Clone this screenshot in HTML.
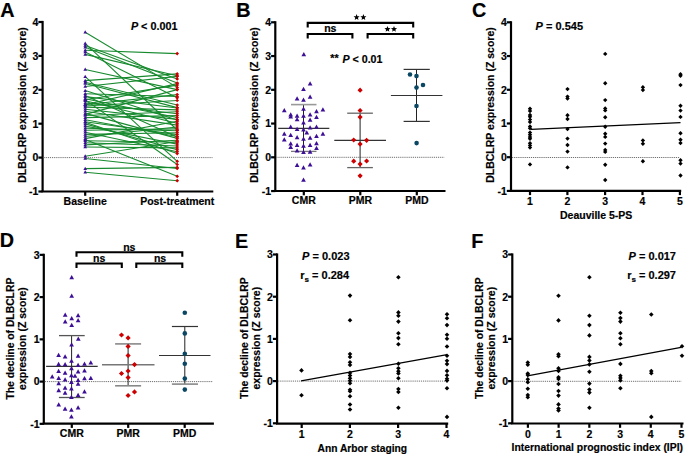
<!DOCTYPE html>
<html><head><meta charset="utf-8"><style>
html,body{margin:0;padding:0;background:#fff;}
svg{display:block;}
text{font-family:"Liberation Sans", sans-serif;fill:#000;stroke:#000;stroke-width:0.18px;}
</style></head><body>
<svg width="685" height="454" viewBox="0 0 685 454">
<rect width="685" height="454" fill="#fff"/>
<text x="0.20" y="16.60" text-anchor="start" font-size="19.8" font-weight="bold" font-style="normal" >A</text>
<line x1="38.40" y1="22.00" x2="42.60" y2="22.00" stroke="#000" stroke-width="2.2" />
<text x="38.40" y="25.80" text-anchor="end" font-size="10.5" font-weight="bold" font-style="normal" >4</text>
<line x1="38.40" y1="55.90" x2="42.60" y2="55.90" stroke="#000" stroke-width="2.2" />
<text x="38.40" y="59.70" text-anchor="end" font-size="10.5" font-weight="bold" font-style="normal" >3</text>
<line x1="38.40" y1="89.80" x2="42.60" y2="89.80" stroke="#000" stroke-width="2.2" />
<text x="38.40" y="93.60" text-anchor="end" font-size="10.5" font-weight="bold" font-style="normal" >2</text>
<line x1="38.40" y1="123.70" x2="42.60" y2="123.70" stroke="#000" stroke-width="2.2" />
<text x="38.40" y="127.50" text-anchor="end" font-size="10.5" font-weight="bold" font-style="normal" >1</text>
<line x1="38.40" y1="157.60" x2="42.60" y2="157.60" stroke="#000" stroke-width="2.2" />
<text x="38.40" y="161.40" text-anchor="end" font-size="10.5" font-weight="bold" font-style="normal" >0</text>
<line x1="38.40" y1="191.50" x2="42.60" y2="191.50" stroke="#000" stroke-width="2.2" />
<text x="38.40" y="195.30" text-anchor="end" font-size="10.5" font-weight="bold" font-style="normal" >-1</text>
<line x1="42.60" y1="20.90" x2="42.60" y2="191.50" stroke="#000" stroke-width="2.2" />
<line x1="43.60" y1="157.60" x2="212.50" y2="157.60" stroke="#707070" stroke-width="1.0" stroke-dasharray="1.2 0.9"/>
<line x1="85.20" y1="32.30" x2="177.20" y2="87.40" stroke="#178a2e" stroke-width="1.1" />
<line x1="85.20" y1="43.40" x2="177.20" y2="130.00" stroke="#178a2e" stroke-width="1.1" />
<line x1="85.20" y1="45.50" x2="177.20" y2="79.00" stroke="#178a2e" stroke-width="1.1" />
<line x1="85.20" y1="47.30" x2="177.20" y2="83.00" stroke="#178a2e" stroke-width="1.1" />
<line x1="85.20" y1="50.30" x2="177.20" y2="53.60" stroke="#178a2e" stroke-width="1.1" />
<line x1="85.20" y1="54.40" x2="177.20" y2="75.80" stroke="#178a2e" stroke-width="1.1" />
<line x1="85.20" y1="52.00" x2="177.20" y2="97.80" stroke="#178a2e" stroke-width="1.1" />
<line x1="85.20" y1="69.50" x2="177.20" y2="89.60" stroke="#178a2e" stroke-width="1.1" />
<line x1="85.20" y1="76.60" x2="177.20" y2="161.30" stroke="#178a2e" stroke-width="1.1" />
<line x1="85.20" y1="80.60" x2="177.20" y2="73.90" stroke="#178a2e" stroke-width="1.1" />
<line x1="85.20" y1="82.30" x2="177.20" y2="105.00" stroke="#178a2e" stroke-width="1.1" />
<line x1="85.20" y1="83.50" x2="177.20" y2="107.60" stroke="#178a2e" stroke-width="1.1" />
<line x1="85.20" y1="90.60" x2="177.20" y2="120.00" stroke="#178a2e" stroke-width="1.1" />
<line x1="85.20" y1="93.80" x2="177.20" y2="96.50" stroke="#178a2e" stroke-width="1.1" />
<line x1="85.20" y1="156.30" x2="177.20" y2="141.50" stroke="#178a2e" stroke-width="1.1" />
<line x1="85.20" y1="158.50" x2="177.20" y2="168.50" stroke="#178a2e" stroke-width="1.1" />
<line x1="85.20" y1="168.60" x2="177.20" y2="167.40" stroke="#178a2e" stroke-width="1.1" />
<line x1="85.20" y1="172.20" x2="177.20" y2="180.70" stroke="#178a2e" stroke-width="1.1" />
<line x1="85.20" y1="99.90" x2="177.20" y2="164.50" stroke="#178a2e" stroke-width="1.1" />
<line x1="85.20" y1="139.60" x2="177.20" y2="176.30" stroke="#178a2e" stroke-width="1.1" />
<line x1="85.20" y1="104.80" x2="177.20" y2="83.60" stroke="#178a2e" stroke-width="1.1" />
<line x1="85.20" y1="99.80" x2="177.20" y2="85.10" stroke="#178a2e" stroke-width="1.1" />
<line x1="85.20" y1="104.70" x2="177.20" y2="94.60" stroke="#178a2e" stroke-width="1.1" />
<line x1="85.20" y1="95.50" x2="177.20" y2="137.00" stroke="#178a2e" stroke-width="1.1" />
<line x1="85.20" y1="86.50" x2="177.20" y2="76.40" stroke="#178a2e" stroke-width="1.1" />
<line x1="85.20" y1="122.30" x2="177.20" y2="153.60" stroke="#178a2e" stroke-width="1.1" />
<line x1="85.20" y1="114.40" x2="177.20" y2="89.60" stroke="#178a2e" stroke-width="1.1" />
<line x1="85.20" y1="106.00" x2="177.20" y2="100.50" stroke="#178a2e" stroke-width="1.1" />
<line x1="85.20" y1="96.60" x2="177.20" y2="108.00" stroke="#178a2e" stroke-width="1.1" />
<line x1="85.20" y1="107.10" x2="177.20" y2="109.90" stroke="#178a2e" stroke-width="1.1" />
<line x1="85.20" y1="115.50" x2="177.20" y2="111.80" stroke="#178a2e" stroke-width="1.1" />
<line x1="85.20" y1="102.90" x2="177.20" y2="113.70" stroke="#178a2e" stroke-width="1.1" />
<line x1="85.20" y1="117.60" x2="177.20" y2="115.60" stroke="#178a2e" stroke-width="1.1" />
<line x1="85.20" y1="98.70" x2="177.20" y2="117.50" stroke="#178a2e" stroke-width="1.1" />
<line x1="85.20" y1="109.20" x2="177.20" y2="119.40" stroke="#178a2e" stroke-width="1.1" />
<line x1="85.20" y1="138.60" x2="177.20" y2="121.30" stroke="#178a2e" stroke-width="1.1" />
<line x1="85.20" y1="100.80" x2="177.20" y2="123.20" stroke="#178a2e" stroke-width="1.1" />
<line x1="85.20" y1="111.30" x2="177.20" y2="125.10" stroke="#178a2e" stroke-width="1.1" />
<line x1="85.20" y1="136.50" x2="177.20" y2="127.00" stroke="#178a2e" stroke-width="1.1" />
<line x1="85.20" y1="130.20" x2="177.20" y2="128.90" stroke="#178a2e" stroke-width="1.1" />
<line x1="85.20" y1="128.10" x2="177.20" y2="130.80" stroke="#178a2e" stroke-width="1.1" />
<line x1="85.20" y1="134.40" x2="177.20" y2="132.70" stroke="#178a2e" stroke-width="1.1" />
<line x1="85.20" y1="121.80" x2="177.20" y2="134.60" stroke="#178a2e" stroke-width="1.1" />
<line x1="85.20" y1="119.70" x2="177.20" y2="136.50" stroke="#178a2e" stroke-width="1.1" />
<line x1="85.20" y1="113.40" x2="177.20" y2="138.40" stroke="#178a2e" stroke-width="1.1" />
<line x1="85.20" y1="144.90" x2="177.20" y2="140.30" stroke="#178a2e" stroke-width="1.1" />
<line x1="85.20" y1="140.70" x2="177.20" y2="142.20" stroke="#178a2e" stroke-width="1.1" />
<line x1="85.20" y1="126.00" x2="177.20" y2="144.10" stroke="#178a2e" stroke-width="1.1" />
<line x1="85.20" y1="142.80" x2="177.20" y2="146.00" stroke="#178a2e" stroke-width="1.1" />
<line x1="85.20" y1="147.00" x2="177.20" y2="147.90" stroke="#178a2e" stroke-width="1.1" />
<line x1="85.20" y1="123.90" x2="177.20" y2="149.80" stroke="#178a2e" stroke-width="1.1" />
<line x1="85.20" y1="132.30" x2="177.20" y2="151.70" stroke="#178a2e" stroke-width="1.1" />
<polygon points="85.20,30.36 87.00,33.60 83.40,33.60" fill="#3c0f96"/>
<polygon points="85.20,41.46 87.00,44.70 83.40,44.70" fill="#3c0f96"/>
<polygon points="85.20,43.56 87.00,46.80 83.40,46.80" fill="#3c0f96"/>
<polygon points="85.20,45.36 87.00,48.60 83.40,48.60" fill="#3c0f96"/>
<polygon points="85.20,48.36 87.00,51.60 83.40,51.60" fill="#3c0f96"/>
<polygon points="85.20,52.46 87.00,55.70 83.40,55.70" fill="#3c0f96"/>
<polygon points="85.20,50.06 87.00,53.30 83.40,53.30" fill="#3c0f96"/>
<polygon points="85.20,67.56 87.00,70.80 83.40,70.80" fill="#3c0f96"/>
<polygon points="85.20,74.66 87.00,77.90 83.40,77.90" fill="#3c0f96"/>
<polygon points="85.20,78.66 87.00,81.90 83.40,81.90" fill="#3c0f96"/>
<polygon points="85.20,80.36 87.00,83.60 83.40,83.60" fill="#3c0f96"/>
<polygon points="85.20,81.56 87.00,84.80 83.40,84.80" fill="#3c0f96"/>
<polygon points="85.20,88.66 87.00,91.90 83.40,91.90" fill="#3c0f96"/>
<polygon points="85.20,91.86 87.00,95.10 83.40,95.10" fill="#3c0f96"/>
<polygon points="85.20,154.36 87.00,157.60 83.40,157.60" fill="#3c0f96"/>
<polygon points="85.20,156.56 87.00,159.80 83.40,159.80" fill="#3c0f96"/>
<polygon points="85.20,166.66 87.00,169.90 83.40,169.90" fill="#3c0f96"/>
<polygon points="85.20,170.26 87.00,173.50 83.40,173.50" fill="#3c0f96"/>
<polygon points="85.20,97.96 87.00,101.20 83.40,101.20" fill="#3c0f96"/>
<polygon points="85.20,137.66 87.00,140.90 83.40,140.90" fill="#3c0f96"/>
<polygon points="85.20,102.86 87.00,106.10 83.40,106.10" fill="#3c0f96"/>
<polygon points="85.20,97.86 87.00,101.10 83.40,101.10" fill="#3c0f96"/>
<polygon points="85.20,102.76 87.00,106.00 83.40,106.00" fill="#3c0f96"/>
<polygon points="85.20,93.56 87.00,96.80 83.40,96.80" fill="#3c0f96"/>
<polygon points="85.20,84.56 87.00,87.80 83.40,87.80" fill="#3c0f96"/>
<polygon points="85.20,120.36 87.00,123.60 83.40,123.60" fill="#3c0f96"/>
<polygon points="85.20,112.46 87.00,115.70 83.40,115.70" fill="#3c0f96"/>
<polygon points="85.20,104.06 87.00,107.30 83.40,107.30" fill="#3c0f96"/>
<polygon points="85.20,94.66 87.00,97.90 83.40,97.90" fill="#3c0f96"/>
<polygon points="85.20,105.16 87.00,108.40 83.40,108.40" fill="#3c0f96"/>
<polygon points="85.20,113.56 87.00,116.80 83.40,116.80" fill="#3c0f96"/>
<polygon points="85.20,100.96 87.00,104.20 83.40,104.20" fill="#3c0f96"/>
<polygon points="85.20,115.66 87.00,118.90 83.40,118.90" fill="#3c0f96"/>
<polygon points="85.20,96.76 87.00,100.00 83.40,100.00" fill="#3c0f96"/>
<polygon points="85.20,107.26 87.00,110.50 83.40,110.50" fill="#3c0f96"/>
<polygon points="85.20,136.66 87.00,139.90 83.40,139.90" fill="#3c0f96"/>
<polygon points="85.20,98.86 87.00,102.10 83.40,102.10" fill="#3c0f96"/>
<polygon points="85.20,109.36 87.00,112.60 83.40,112.60" fill="#3c0f96"/>
<polygon points="85.20,134.56 87.00,137.80 83.40,137.80" fill="#3c0f96"/>
<polygon points="85.20,128.26 87.00,131.50 83.40,131.50" fill="#3c0f96"/>
<polygon points="85.20,126.16 87.00,129.40 83.40,129.40" fill="#3c0f96"/>
<polygon points="85.20,132.46 87.00,135.70 83.40,135.70" fill="#3c0f96"/>
<polygon points="85.20,119.86 87.00,123.10 83.40,123.10" fill="#3c0f96"/>
<polygon points="85.20,117.76 87.00,121.00 83.40,121.00" fill="#3c0f96"/>
<polygon points="85.20,111.46 87.00,114.70 83.40,114.70" fill="#3c0f96"/>
<polygon points="85.20,142.96 87.00,146.20 83.40,146.20" fill="#3c0f96"/>
<polygon points="85.20,138.76 87.00,142.00 83.40,142.00" fill="#3c0f96"/>
<polygon points="85.20,124.06 87.00,127.30 83.40,127.30" fill="#3c0f96"/>
<polygon points="85.20,140.86 87.00,144.10 83.40,144.10" fill="#3c0f96"/>
<polygon points="85.20,145.06 87.00,148.30 83.40,148.30" fill="#3c0f96"/>
<polygon points="85.20,121.96 87.00,125.20 83.40,125.20" fill="#3c0f96"/>
<polygon points="85.20,130.36 87.00,133.60 83.40,133.60" fill="#3c0f96"/>
<polygon points="177.20,85.55 179.05,87.40 177.20,89.25 175.35,87.40" fill="#c80000"/>
<polygon points="177.20,128.15 179.05,130.00 177.20,131.85 175.35,130.00" fill="#c80000"/>
<polygon points="177.20,77.15 179.05,79.00 177.20,80.85 175.35,79.00" fill="#c80000"/>
<polygon points="177.20,81.15 179.05,83.00 177.20,84.85 175.35,83.00" fill="#c80000"/>
<polygon points="177.20,51.75 179.05,53.60 177.20,55.45 175.35,53.60" fill="#c80000"/>
<polygon points="177.20,73.95 179.05,75.80 177.20,77.65 175.35,75.80" fill="#c80000"/>
<polygon points="177.20,95.95 179.05,97.80 177.20,99.65 175.35,97.80" fill="#c80000"/>
<polygon points="177.20,87.75 179.05,89.60 177.20,91.45 175.35,89.60" fill="#c80000"/>
<polygon points="177.20,159.45 179.05,161.30 177.20,163.15 175.35,161.30" fill="#c80000"/>
<polygon points="177.20,72.05 179.05,73.90 177.20,75.75 175.35,73.90" fill="#c80000"/>
<polygon points="177.20,103.15 179.05,105.00 177.20,106.85 175.35,105.00" fill="#c80000"/>
<polygon points="177.20,105.75 179.05,107.60 177.20,109.45 175.35,107.60" fill="#c80000"/>
<polygon points="177.20,118.15 179.05,120.00 177.20,121.85 175.35,120.00" fill="#c80000"/>
<polygon points="177.20,94.65 179.05,96.50 177.20,98.35 175.35,96.50" fill="#c80000"/>
<polygon points="177.20,139.65 179.05,141.50 177.20,143.35 175.35,141.50" fill="#c80000"/>
<polygon points="177.20,166.65 179.05,168.50 177.20,170.35 175.35,168.50" fill="#c80000"/>
<polygon points="177.20,165.55 179.05,167.40 177.20,169.25 175.35,167.40" fill="#c80000"/>
<polygon points="177.20,178.85 179.05,180.70 177.20,182.55 175.35,180.70" fill="#c80000"/>
<polygon points="177.20,162.65 179.05,164.50 177.20,166.35 175.35,164.50" fill="#c80000"/>
<polygon points="177.20,174.45 179.05,176.30 177.20,178.15 175.35,176.30" fill="#c80000"/>
<polygon points="177.20,81.75 179.05,83.60 177.20,85.45 175.35,83.60" fill="#c80000"/>
<polygon points="177.20,83.25 179.05,85.10 177.20,86.95 175.35,85.10" fill="#c80000"/>
<polygon points="177.20,92.75 179.05,94.60 177.20,96.45 175.35,94.60" fill="#c80000"/>
<polygon points="177.20,135.15 179.05,137.00 177.20,138.85 175.35,137.00" fill="#c80000"/>
<polygon points="177.20,74.55 179.05,76.40 177.20,78.25 175.35,76.40" fill="#c80000"/>
<polygon points="177.20,151.75 179.05,153.60 177.20,155.45 175.35,153.60" fill="#c80000"/>
<polygon points="177.20,87.75 179.05,89.60 177.20,91.45 175.35,89.60" fill="#c80000"/>
<polygon points="177.20,98.65 179.05,100.50 177.20,102.35 175.35,100.50" fill="#c80000"/>
<polygon points="177.20,106.15 179.05,108.00 177.20,109.85 175.35,108.00" fill="#c80000"/>
<polygon points="177.20,108.05 179.05,109.90 177.20,111.75 175.35,109.90" fill="#c80000"/>
<polygon points="177.20,109.95 179.05,111.80 177.20,113.65 175.35,111.80" fill="#c80000"/>
<polygon points="177.20,111.85 179.05,113.70 177.20,115.55 175.35,113.70" fill="#c80000"/>
<polygon points="177.20,113.75 179.05,115.60 177.20,117.45 175.35,115.60" fill="#c80000"/>
<polygon points="177.20,115.65 179.05,117.50 177.20,119.35 175.35,117.50" fill="#c80000"/>
<polygon points="177.20,117.55 179.05,119.40 177.20,121.25 175.35,119.40" fill="#c80000"/>
<polygon points="177.20,119.45 179.05,121.30 177.20,123.15 175.35,121.30" fill="#c80000"/>
<polygon points="177.20,121.35 179.05,123.20 177.20,125.05 175.35,123.20" fill="#c80000"/>
<polygon points="177.20,123.25 179.05,125.10 177.20,126.95 175.35,125.10" fill="#c80000"/>
<polygon points="177.20,125.15 179.05,127.00 177.20,128.85 175.35,127.00" fill="#c80000"/>
<polygon points="177.20,127.05 179.05,128.90 177.20,130.75 175.35,128.90" fill="#c80000"/>
<polygon points="177.20,128.95 179.05,130.80 177.20,132.65 175.35,130.80" fill="#c80000"/>
<polygon points="177.20,130.85 179.05,132.70 177.20,134.55 175.35,132.70" fill="#c80000"/>
<polygon points="177.20,132.75 179.05,134.60 177.20,136.45 175.35,134.60" fill="#c80000"/>
<polygon points="177.20,134.65 179.05,136.50 177.20,138.35 175.35,136.50" fill="#c80000"/>
<polygon points="177.20,136.55 179.05,138.40 177.20,140.25 175.35,138.40" fill="#c80000"/>
<polygon points="177.20,138.45 179.05,140.30 177.20,142.15 175.35,140.30" fill="#c80000"/>
<polygon points="177.20,140.35 179.05,142.20 177.20,144.05 175.35,142.20" fill="#c80000"/>
<polygon points="177.20,142.25 179.05,144.10 177.20,145.95 175.35,144.10" fill="#c80000"/>
<polygon points="177.20,144.15 179.05,146.00 177.20,147.85 175.35,146.00" fill="#c80000"/>
<polygon points="177.20,146.05 179.05,147.90 177.20,149.75 175.35,147.90" fill="#c80000"/>
<polygon points="177.20,147.95 179.05,149.80 177.20,151.65 175.35,149.80" fill="#c80000"/>
<polygon points="177.20,149.85 179.05,151.70 177.20,153.55 175.35,151.70" fill="#c80000"/>
<line x1="41.50" y1="191.50" x2="213.30" y2="191.50" stroke="#000" stroke-width="2.2" />
<line x1="85.20" y1="191.50" x2="85.20" y2="195.80" stroke="#000" stroke-width="2.2" />
<text x="85.20" y="205.20" text-anchor="middle" font-size="10.5" font-weight="bold" font-style="normal" >Baseline</text>
<line x1="177.20" y1="191.50" x2="177.20" y2="195.80" stroke="#000" stroke-width="2.2" />
<text x="177.20" y="205.20" text-anchor="middle" font-size="10.5" font-weight="bold" font-style="normal" >Post-treatment</text>
<text x="0" y="0" text-anchor="middle" font-size="10.5" font-weight="bold" transform="translate(25.80,105.00) rotate(-90)">DLBCLRP expression (Z score)</text>
<text x="130.90" y="30.30" text-anchor="start" font-size="10.8" font-weight="bold" font-style="normal" ><tspan font-style="italic">P</tspan> &lt; 0.001</text>
<text x="236.30" y="16.80" text-anchor="start" font-size="19.8" font-weight="bold" font-style="normal" >B</text>
<line x1="271.10" y1="22.30" x2="275.30" y2="22.30" stroke="#000" stroke-width="2.2" />
<text x="271.10" y="26.10" text-anchor="end" font-size="10.5" font-weight="bold" font-style="normal" >4</text>
<line x1="271.10" y1="56.05" x2="275.30" y2="56.05" stroke="#000" stroke-width="2.2" />
<text x="271.10" y="59.85" text-anchor="end" font-size="10.5" font-weight="bold" font-style="normal" >3</text>
<line x1="271.10" y1="89.80" x2="275.30" y2="89.80" stroke="#000" stroke-width="2.2" />
<text x="271.10" y="93.60" text-anchor="end" font-size="10.5" font-weight="bold" font-style="normal" >2</text>
<line x1="271.10" y1="123.55" x2="275.30" y2="123.55" stroke="#000" stroke-width="2.2" />
<text x="271.10" y="127.35" text-anchor="end" font-size="10.5" font-weight="bold" font-style="normal" >1</text>
<line x1="271.10" y1="157.30" x2="275.30" y2="157.30" stroke="#000" stroke-width="2.2" />
<text x="271.10" y="161.10" text-anchor="end" font-size="10.5" font-weight="bold" font-style="normal" >0</text>
<line x1="271.10" y1="191.05" x2="275.30" y2="191.05" stroke="#000" stroke-width="2.2" />
<text x="271.10" y="194.85" text-anchor="end" font-size="10.5" font-weight="bold" font-style="normal" >-1</text>
<line x1="275.30" y1="21.20" x2="275.30" y2="191.00" stroke="#000" stroke-width="2.2" />
<line x1="276.30" y1="157.30" x2="444.50" y2="157.30" stroke="#707070" stroke-width="1.0" stroke-dasharray="1.2 0.9"/>
<path d="M307.70,27.40 V22.90 H413.20 V27.40" stroke="#000" stroke-width="2.1" fill="none" stroke-linejoin="miter" stroke-linecap="butt"/>
<path d="M307.70,38.60 V34.00 H352.40 V38.60" stroke="#000" stroke-width="2.1" fill="none" stroke-linejoin="miter" stroke-linecap="butt"/>
<path d="M367.60,38.60 V34.00 H413.20 V38.60" stroke="#000" stroke-width="2.1" fill="none" stroke-linejoin="miter" stroke-linecap="butt"/>
<polygon points="356.60,14.10 357.43,16.16 359.64,16.31 357.94,17.74 358.48,19.89 356.60,18.71 354.72,19.89 355.26,17.74 353.56,16.31 355.77,16.16" fill="#000"/>
<polygon points="363.40,14.10 364.23,16.16 366.44,16.31 364.74,17.74 365.28,19.89 363.40,18.71 361.52,19.89 362.06,17.74 360.36,16.31 362.57,16.16" fill="#000"/>
<polygon points="387.50,26.00 388.33,28.06 390.54,28.21 388.84,29.64 389.38,31.79 387.50,30.61 385.62,31.79 386.16,29.64 384.46,28.21 386.67,28.06" fill="#000"/>
<polygon points="394.00,26.00 394.83,28.06 397.04,28.21 395.34,29.64 395.88,31.79 394.00,30.61 392.12,31.79 392.66,29.64 390.96,28.21 393.17,28.06" fill="#000"/>
<text x="330.30" y="32.20" text-anchor="middle" font-size="10.5" font-weight="bold" font-style="normal" >ns</text>
<text x="330.35" y="62.40" text-anchor="start" font-size="10.7" font-weight="bold" font-style="normal" >**</text>
<text x="342.40" y="62.50" text-anchor="start" font-size="10.7" font-weight="bold" font-style="normal" ><tspan font-style="italic">P</tspan> &lt; 0.01</text>
<line x1="303.50" y1="104.60" x2="303.50" y2="151.40" stroke="#222" stroke-width="1.0" />
<line x1="291.00" y1="104.60" x2="316.50" y2="104.60" stroke="#999" stroke-width="1.6" />
<line x1="291.00" y1="151.40" x2="316.50" y2="151.40" stroke="#777" stroke-width="1.3" />
<line x1="278.20" y1="128.30" x2="329.30" y2="128.30" stroke="#333" stroke-width="1.2" />
<polygon points="303.80,51.96 306.15,56.19 301.45,56.19" fill="#3c0f96"/>
<polygon points="310.10,81.26 312.45,85.49 307.75,85.49" fill="#3c0f96"/>
<polygon points="303.50,86.86 305.85,91.09 301.15,91.09" fill="#3c0f96"/>
<polygon points="297.10,96.26 299.45,100.49 294.75,100.49" fill="#3c0f96"/>
<polygon points="310.10,94.56 312.45,98.79 307.75,98.79" fill="#3c0f96"/>
<polygon points="303.50,97.56 305.85,101.79 301.15,101.79" fill="#3c0f96"/>
<polygon points="303.50,106.56 305.85,110.79 301.15,110.79" fill="#3c0f96"/>
<polygon points="284.30,107.96 286.65,112.19 281.95,112.19" fill="#3c0f96"/>
<polygon points="322.90,107.26 325.25,111.49 320.55,111.49" fill="#3c0f96"/>
<polygon points="316.50,109.06 318.85,113.29 314.15,113.29" fill="#3c0f96"/>
<polygon points="290.70,112.36 293.05,116.59 288.35,116.59" fill="#3c0f96"/>
<polygon points="290.70,114.16 293.05,118.39 288.35,118.39" fill="#3c0f96"/>
<polygon points="297.10,113.46 299.45,117.69 294.75,117.69" fill="#3c0f96"/>
<polygon points="303.50,113.46 305.85,117.69 301.15,117.69" fill="#3c0f96"/>
<polygon points="310.10,112.36 312.45,116.59 307.75,116.59" fill="#3c0f96"/>
<polygon points="316.50,114.76 318.85,118.99 314.15,118.99" fill="#3c0f96"/>
<polygon points="297.10,116.96 299.45,121.19 294.75,121.19" fill="#3c0f96"/>
<polygon points="310.10,117.46 312.45,121.69 307.75,121.69" fill="#3c0f96"/>
<polygon points="303.50,120.26 305.85,124.49 301.15,124.49" fill="#3c0f96"/>
<polygon points="290.70,124.46 293.05,128.69 288.35,128.69" fill="#3c0f96"/>
<polygon points="316.50,124.46 318.85,128.69 314.15,128.69" fill="#3c0f96"/>
<polygon points="310.10,125.36 312.45,129.59 307.75,129.59" fill="#3c0f96"/>
<polygon points="297.10,126.76 299.45,130.99 294.75,130.99" fill="#3c0f96"/>
<polygon points="303.50,127.36 305.85,131.59 301.15,131.59" fill="#3c0f96"/>
<polygon points="306.80,130.16 309.15,134.39 304.45,134.39" fill="#3c0f96"/>
<polygon points="284.30,131.46 286.65,135.69 281.95,135.69" fill="#3c0f96"/>
<polygon points="322.90,131.46 325.25,135.69 320.55,135.69" fill="#3c0f96"/>
<polygon points="290.70,132.66 293.05,136.89 288.35,136.89" fill="#3c0f96"/>
<polygon points="297.10,134.96 299.45,139.19 294.75,139.19" fill="#3c0f96"/>
<polygon points="303.50,136.56 305.85,140.79 301.15,140.79" fill="#3c0f96"/>
<polygon points="310.10,135.56 312.45,139.79 307.75,139.79" fill="#3c0f96"/>
<polygon points="316.50,133.86 318.85,138.09 314.15,138.09" fill="#3c0f96"/>
<polygon points="284.30,137.26 286.65,141.49 281.95,141.49" fill="#3c0f96"/>
<polygon points="290.70,141.36 293.05,145.59 288.35,145.59" fill="#3c0f96"/>
<polygon points="290.70,144.76 293.05,148.99 288.35,148.99" fill="#3c0f96"/>
<polygon points="297.10,142.86 299.45,147.09 294.75,147.09" fill="#3c0f96"/>
<polygon points="303.50,143.46 305.85,147.69 301.15,147.69" fill="#3c0f96"/>
<polygon points="310.10,142.66 312.45,146.89 307.75,146.89" fill="#3c0f96"/>
<polygon points="316.50,141.06 318.85,145.29 314.15,145.29" fill="#3c0f96"/>
<polygon points="316.50,145.76 318.85,149.99 314.15,149.99" fill="#3c0f96"/>
<polygon points="297.10,148.26 299.45,152.49 294.75,152.49" fill="#3c0f96"/>
<polygon points="303.50,149.86 305.85,154.09 301.15,154.09" fill="#3c0f96"/>
<polygon points="310.10,149.56 312.45,153.79 307.75,153.79" fill="#3c0f96"/>
<polygon points="297.10,162.66 299.45,166.89 294.75,166.89" fill="#3c0f96"/>
<polygon points="310.10,162.36 312.45,166.59 307.75,166.59" fill="#3c0f96"/>
<polygon points="303.50,165.26 305.85,169.49 301.15,169.49" fill="#3c0f96"/>
<polygon points="303.50,177.46 305.85,181.69 301.15,181.69" fill="#3c0f96"/>
<line x1="360.10" y1="113.20" x2="360.10" y2="167.60" stroke="#222" stroke-width="1.0" />
<line x1="347.20" y1="113.20" x2="372.90" y2="113.20" stroke="#666" stroke-width="1.3" />
<line x1="347.20" y1="167.60" x2="372.90" y2="167.60" stroke="#666" stroke-width="1.3" />
<line x1="334.30" y1="140.30" x2="386.00" y2="140.30" stroke="#333" stroke-width="1.2" />
<polygon points="360.10,87.60 362.70,90.20 360.10,92.80 357.50,90.20" fill="#cc0000"/>
<polygon points="360.10,107.90 362.70,110.50 360.10,113.10 357.50,110.50" fill="#cc0000"/>
<polygon points="360.10,114.50 362.70,117.10 360.10,119.70 357.50,117.10" fill="#cc0000"/>
<polygon points="353.70,137.40 356.30,140.00 353.70,142.60 351.10,140.00" fill="#cc0000"/>
<polygon points="366.60,137.70 369.20,140.30 366.60,142.90 364.00,140.30" fill="#cc0000"/>
<polygon points="360.10,141.50 362.70,144.10 360.10,146.70 357.50,144.10" fill="#cc0000"/>
<polygon points="353.70,158.60 356.30,161.20 353.70,163.80 351.10,161.20" fill="#cc0000"/>
<polygon points="366.60,158.40 369.20,161.00 366.60,163.60 364.00,161.00" fill="#cc0000"/>
<polygon points="360.10,161.50 362.70,164.10 360.10,166.70 357.50,164.10" fill="#cc0000"/>
<polygon points="360.10,173.20 362.70,175.80 360.10,178.40 357.50,175.80" fill="#cc0000"/>
<line x1="416.50" y1="69.40" x2="416.50" y2="121.40" stroke="#222" stroke-width="1.0" />
<line x1="403.60" y1="69.40" x2="429.80" y2="69.40" stroke="#333" stroke-width="1.2" />
<line x1="403.60" y1="121.40" x2="429.80" y2="121.40" stroke="#333" stroke-width="1.2" />
<line x1="390.90" y1="95.50" x2="442.40" y2="95.50" stroke="#333" stroke-width="1.2" />
<circle cx="410.00" cy="74.50" r="2.3" fill="#0a4763"/>
<circle cx="416.50" cy="76.10" r="2.3" fill="#0a4763"/>
<circle cx="423.00" cy="85.00" r="2.3" fill="#0a4763"/>
<circle cx="416.50" cy="87.60" r="2.3" fill="#0a4763"/>
<circle cx="416.50" cy="106.00" r="2.3" fill="#0a4763"/>
<circle cx="416.60" cy="143.10" r="2.3" fill="#0a4763"/>
<line x1="274.20" y1="191.00" x2="445.50" y2="191.00" stroke="#000" stroke-width="2.2" />
<line x1="303.80" y1="191.00" x2="303.80" y2="195.30" stroke="#000" stroke-width="2.2" />
<text x="303.80" y="204.30" text-anchor="middle" font-size="10.5" font-weight="bold" font-style="normal" >CMR</text>
<line x1="360.30" y1="191.00" x2="360.30" y2="195.30" stroke="#000" stroke-width="2.2" />
<text x="360.30" y="204.30" text-anchor="middle" font-size="10.5" font-weight="bold" font-style="normal" >PMR</text>
<line x1="416.80" y1="191.00" x2="416.80" y2="195.30" stroke="#000" stroke-width="2.2" />
<text x="416.80" y="204.30" text-anchor="middle" font-size="10.5" font-weight="bold" font-style="normal" >PMD</text>
<text x="0" y="0" text-anchor="middle" font-size="10.5" font-weight="bold" transform="translate(258.20,105.00) rotate(-90)">DLBCLRP expression (Z score)</text>
<text x="471.90" y="16.90" text-anchor="start" font-size="19.8" font-weight="bold" font-style="normal" >C</text>
<line x1="506.80" y1="22.32" x2="511.00" y2="22.32" stroke="#000" stroke-width="2.2" />
<text x="506.80" y="26.12" text-anchor="end" font-size="10.5" font-weight="bold" font-style="normal" >4</text>
<line x1="506.80" y1="56.04" x2="511.00" y2="56.04" stroke="#000" stroke-width="2.2" />
<text x="506.80" y="59.84" text-anchor="end" font-size="10.5" font-weight="bold" font-style="normal" >3</text>
<line x1="506.80" y1="89.76" x2="511.00" y2="89.76" stroke="#000" stroke-width="2.2" />
<text x="506.80" y="93.56" text-anchor="end" font-size="10.5" font-weight="bold" font-style="normal" >2</text>
<line x1="506.80" y1="123.48" x2="511.00" y2="123.48" stroke="#000" stroke-width="2.2" />
<text x="506.80" y="127.28" text-anchor="end" font-size="10.5" font-weight="bold" font-style="normal" >1</text>
<line x1="506.80" y1="157.20" x2="511.00" y2="157.20" stroke="#000" stroke-width="2.2" />
<text x="506.80" y="161.00" text-anchor="end" font-size="10.5" font-weight="bold" font-style="normal" >0</text>
<line x1="506.80" y1="190.92" x2="511.00" y2="190.92" stroke="#000" stroke-width="2.2" />
<text x="506.80" y="194.72" text-anchor="end" font-size="10.5" font-weight="bold" font-style="normal" >-1</text>
<line x1="511.00" y1="21.22" x2="511.00" y2="190.80" stroke="#000" stroke-width="2.2" />
<line x1="512.00" y1="157.50" x2="680.00" y2="157.50" stroke="#707070" stroke-width="1.0" stroke-dasharray="1.2 0.9"/>
<line x1="531.00" y1="129.40" x2="680.50" y2="122.70" stroke="#000" stroke-width="1.3" />
<polygon points="530.00,106.60 532.20,108.80 530.00,111.00 527.80,108.80" fill="#000"/>
<polygon points="530.00,108.80 532.20,111.00 530.00,113.20 527.80,111.00" fill="#000"/>
<polygon points="530.00,112.80 532.20,115.00 530.00,117.20 527.80,115.00" fill="#000"/>
<polygon points="530.00,114.50 532.20,116.70 530.00,118.90 527.80,116.70" fill="#000"/>
<polygon points="530.00,117.40 532.20,119.60 530.00,121.80 527.80,119.60" fill="#000"/>
<polygon points="530.00,119.80 532.20,122.00 530.00,124.20 527.80,122.00" fill="#000"/>
<polygon points="530.00,124.20 532.20,126.40 530.00,128.60 527.80,126.40" fill="#000"/>
<polygon points="530.00,126.00 532.20,128.20 530.00,130.40 527.80,128.20" fill="#000"/>
<polygon points="530.00,130.40 532.20,132.60 530.00,134.80 527.80,132.60" fill="#000"/>
<polygon points="530.00,132.60 532.20,134.80 530.00,137.00 527.80,134.80" fill="#000"/>
<polygon points="530.00,134.80 532.20,137.00 530.00,139.20 527.80,137.00" fill="#000"/>
<polygon points="530.00,136.60 532.20,138.80 530.00,141.00 527.80,138.80" fill="#000"/>
<polygon points="530.00,141.00 532.20,143.20 530.00,145.40 527.80,143.20" fill="#000"/>
<polygon points="530.00,143.20 532.20,145.40 530.00,147.60 527.80,145.40" fill="#000"/>
<polygon points="530.00,145.40 532.20,147.60 530.00,149.80 527.80,147.60" fill="#000"/>
<polygon points="530.00,162.20 532.20,164.40 530.00,166.60 527.80,164.40" fill="#000"/>
<polygon points="567.50,86.90 569.70,89.10 567.50,91.30 565.30,89.10" fill="#000"/>
<polygon points="567.50,94.40 569.70,96.60 567.50,98.80 565.30,96.60" fill="#000"/>
<polygon points="567.50,96.30 569.70,98.50 567.50,100.70 565.30,98.50" fill="#000"/>
<polygon points="567.50,113.10 569.70,115.30 567.50,117.50 565.30,115.30" fill="#000"/>
<polygon points="567.50,116.80 569.70,119.00 567.50,121.20 565.30,119.00" fill="#000"/>
<polygon points="567.50,126.90 569.70,129.10 567.50,131.30 565.30,129.10" fill="#000"/>
<polygon points="567.50,136.40 569.70,138.60 567.50,140.80 565.30,138.60" fill="#000"/>
<polygon points="567.50,142.80 569.70,145.00 567.50,147.20 565.30,145.00" fill="#000"/>
<polygon points="567.50,149.40 569.70,151.60 567.50,153.80 565.30,151.60" fill="#000"/>
<polygon points="567.50,165.20 569.70,167.40 567.50,169.60 565.30,167.40" fill="#000"/>
<polygon points="605.20,51.70 607.40,53.90 605.20,56.10 603.00,53.90" fill="#000"/>
<polygon points="605.20,81.10 607.40,83.30 605.20,85.50 603.00,83.30" fill="#000"/>
<polygon points="605.20,97.90 607.40,100.10 605.20,102.30 603.00,100.10" fill="#000"/>
<polygon points="605.20,106.20 607.40,108.40 605.20,110.60 603.00,108.40" fill="#000"/>
<polygon points="605.20,108.20 607.40,110.40 605.20,112.60 603.00,110.40" fill="#000"/>
<polygon points="605.20,115.00 607.40,117.20 605.20,119.40 603.00,117.20" fill="#000"/>
<polygon points="605.20,124.60 607.40,126.80 605.20,129.00 603.00,126.80" fill="#000"/>
<polygon points="605.20,131.50 607.40,133.70 605.20,135.90 603.00,133.70" fill="#000"/>
<polygon points="605.20,134.70 607.40,136.90 605.20,139.10 603.00,136.90" fill="#000"/>
<polygon points="605.20,141.40 607.40,143.60 605.20,145.80 603.00,143.60" fill="#000"/>
<polygon points="605.20,147.70 607.40,149.90 605.20,152.10 603.00,149.90" fill="#000"/>
<polygon points="605.20,149.70 607.40,151.90 605.20,154.10 603.00,151.90" fill="#000"/>
<polygon points="605.20,162.60 607.40,164.80 605.20,167.00 603.00,164.80" fill="#000"/>
<polygon points="605.20,177.80 607.40,180.00 605.20,182.20 603.00,180.00" fill="#000"/>
<polygon points="642.90,85.00 645.10,87.20 642.90,89.40 640.70,87.20" fill="#000"/>
<polygon points="642.90,87.90 645.10,90.10 642.90,92.30 640.70,90.10" fill="#000"/>
<polygon points="642.90,138.20 645.10,140.40 642.90,142.60 640.70,140.40" fill="#000"/>
<polygon points="642.90,141.50 645.10,143.70 642.90,145.90 640.70,143.70" fill="#000"/>
<polygon points="642.90,159.10 645.10,161.30 642.90,163.50 640.70,161.30" fill="#000"/>
<polygon points="680.50,72.10 682.70,74.30 680.50,76.50 678.30,74.30" fill="#000"/>
<polygon points="680.50,73.60 682.70,75.80 680.50,78.00 678.30,75.80" fill="#000"/>
<polygon points="680.50,82.90 682.70,85.10 680.50,87.30 678.30,85.10" fill="#000"/>
<polygon points="680.50,103.50 682.70,105.70 680.50,107.90 678.30,105.70" fill="#000"/>
<polygon points="680.50,108.40 682.70,110.60 680.50,112.80 678.30,110.60" fill="#000"/>
<polygon points="680.50,114.70 682.70,116.90 680.50,119.10 678.30,116.90" fill="#000"/>
<polygon points="680.50,131.00 682.70,133.20 680.50,135.40 678.30,133.20" fill="#000"/>
<polygon points="680.50,137.60 682.70,139.80 680.50,142.00 678.30,139.80" fill="#000"/>
<polygon points="680.50,140.90 682.70,143.10 680.50,145.30 678.30,143.10" fill="#000"/>
<polygon points="680.50,158.10 682.70,160.30 680.50,162.50 678.30,160.30" fill="#000"/>
<polygon points="680.50,161.40 682.70,163.60 680.50,165.80 678.30,163.60" fill="#000"/>
<polygon points="680.50,173.30 682.70,175.50 680.50,177.70 678.30,175.50" fill="#000"/>
<line x1="509.90" y1="190.80" x2="681.20" y2="190.80" stroke="#000" stroke-width="2.2" />
<line x1="530.00" y1="190.80" x2="530.00" y2="195.10" stroke="#000" stroke-width="2.2" />
<text x="530.00" y="204.90" text-anchor="middle" font-size="10.5" font-weight="bold" font-style="normal" >1</text>
<line x1="567.40" y1="190.80" x2="567.40" y2="195.10" stroke="#000" stroke-width="2.2" />
<text x="567.40" y="204.90" text-anchor="middle" font-size="10.5" font-weight="bold" font-style="normal" >2</text>
<line x1="605.10" y1="190.80" x2="605.10" y2="195.10" stroke="#000" stroke-width="2.2" />
<text x="605.10" y="204.90" text-anchor="middle" font-size="10.5" font-weight="bold" font-style="normal" >3</text>
<line x1="642.50" y1="190.80" x2="642.50" y2="195.10" stroke="#000" stroke-width="2.2" />
<text x="642.50" y="204.90" text-anchor="middle" font-size="10.5" font-weight="bold" font-style="normal" >4</text>
<line x1="679.90" y1="190.80" x2="679.90" y2="195.10" stroke="#000" stroke-width="2.2" />
<text x="679.90" y="204.90" text-anchor="middle" font-size="10.5" font-weight="bold" font-style="normal" >5</text>
<text x="596.20" y="218.80" text-anchor="middle" font-size="10.5" font-weight="bold" font-style="normal" >Deauville 5-PS</text>
<text x="0" y="0" text-anchor="middle" font-size="10.5" font-weight="bold" transform="translate(494.30,105.00) rotate(-90)">DLBCLRP expression (Z score)</text>
<text x="535.60" y="30.20" text-anchor="start" font-size="11.0" font-weight="bold" font-style="normal" ><tspan font-style="italic">P</tspan> = 0.545</text>
<text x="-0.20" y="246.90" text-anchor="start" font-size="19.8" font-weight="bold" font-style="normal" >D</text>
<line x1="39.60" y1="254.85" x2="43.80" y2="254.85" stroke="#000" stroke-width="2.2" />
<text x="39.60" y="258.65" text-anchor="end" font-size="10.5" font-weight="bold" font-style="normal" >3</text>
<line x1="39.60" y1="297.10" x2="43.80" y2="297.10" stroke="#000" stroke-width="2.2" />
<text x="39.60" y="300.90" text-anchor="end" font-size="10.5" font-weight="bold" font-style="normal" >2</text>
<line x1="39.60" y1="339.35" x2="43.80" y2="339.35" stroke="#000" stroke-width="2.2" />
<text x="39.60" y="343.15" text-anchor="end" font-size="10.5" font-weight="bold" font-style="normal" >1</text>
<line x1="39.60" y1="381.60" x2="43.80" y2="381.60" stroke="#000" stroke-width="2.2" />
<text x="39.60" y="385.40" text-anchor="end" font-size="10.5" font-weight="bold" font-style="normal" >0</text>
<line x1="39.60" y1="423.85" x2="43.80" y2="423.85" stroke="#000" stroke-width="2.2" />
<text x="39.60" y="427.65" text-anchor="end" font-size="10.5" font-weight="bold" font-style="normal" >-1</text>
<line x1="43.80" y1="253.75" x2="43.80" y2="423.60" stroke="#000" stroke-width="2.2" />
<line x1="44.80" y1="381.60" x2="213.00" y2="381.60" stroke="#707070" stroke-width="1.0" stroke-dasharray="1.2 0.9"/>
<path d="M76.50,256.70 V252.20 H182.30 V256.70" stroke="#000" stroke-width="2.1" fill="none" stroke-linejoin="miter" stroke-linecap="butt"/>
<path d="M76.50,268.00 V263.50 H121.80 V268.00" stroke="#000" stroke-width="2.1" fill="none" stroke-linejoin="miter" stroke-linecap="butt"/>
<path d="M136.30,268.00 V263.50 H182.30 V268.00" stroke="#000" stroke-width="2.1" fill="none" stroke-linejoin="miter" stroke-linecap="butt"/>
<text x="129.30" y="250.60" text-anchor="middle" font-size="10.5" font-weight="bold" font-style="normal" >ns</text>
<text x="99.20" y="262.00" text-anchor="middle" font-size="10.5" font-weight="bold" font-style="normal" >ns</text>
<text x="160.10" y="262.00" text-anchor="middle" font-size="10.5" font-weight="bold" font-style="normal" >ns</text>
<line x1="71.60" y1="335.60" x2="71.60" y2="397.50" stroke="#222" stroke-width="1.0" />
<line x1="59.00" y1="335.60" x2="84.70" y2="335.60" stroke="#555" stroke-width="1.3" />
<line x1="58.90" y1="397.50" x2="84.70" y2="397.50" stroke="#555" stroke-width="1.3" />
<line x1="46.10" y1="366.30" x2="97.70" y2="366.30" stroke="#333" stroke-width="1.2" />
<polygon points="71.70,275.06 74.05,279.29 69.35,279.29" fill="#3c0f96"/>
<polygon points="71.70,293.56 74.05,297.79 69.35,297.79" fill="#3c0f96"/>
<polygon points="65.20,312.46 67.55,316.69 62.85,316.69" fill="#3c0f96"/>
<polygon points="78.10,312.96 80.45,317.19 75.75,317.19" fill="#3c0f96"/>
<polygon points="71.70,316.06 74.05,320.29 69.35,320.29" fill="#3c0f96"/>
<polygon points="78.10,317.96 80.45,322.19 75.75,322.19" fill="#3c0f96"/>
<polygon points="65.20,319.36 67.55,323.59 62.85,323.59" fill="#3c0f96"/>
<polygon points="71.70,322.86 74.05,327.09 69.35,327.09" fill="#3c0f96"/>
<polygon points="78.30,336.56 80.65,340.79 75.95,340.79" fill="#3c0f96"/>
<polygon points="71.60,342.36 73.95,346.59 69.25,346.59" fill="#3c0f96"/>
<polygon points="58.60,352.86 60.95,357.09 56.25,357.09" fill="#3c0f96"/>
<polygon points="65.10,354.36 67.45,358.59 62.75,358.59" fill="#3c0f96"/>
<polygon points="78.10,353.46 80.45,357.69 75.75,357.69" fill="#3c0f96"/>
<polygon points="71.50,358.46 73.85,362.69 69.15,362.69" fill="#3c0f96"/>
<polygon points="58.60,361.66 60.95,365.89 56.25,365.89" fill="#3c0f96"/>
<polygon points="65.10,361.96 67.45,366.19 62.75,366.19" fill="#3c0f96"/>
<polygon points="78.10,362.86 80.45,367.09 75.75,367.09" fill="#3c0f96"/>
<polygon points="84.50,361.56 86.85,365.79 82.15,365.79" fill="#3c0f96"/>
<polygon points="90.80,360.26 93.15,364.49 88.45,364.49" fill="#3c0f96"/>
<polygon points="71.50,365.96 73.85,370.19 69.15,370.19" fill="#3c0f96"/>
<polygon points="58.60,368.66 60.95,372.89 56.25,372.89" fill="#3c0f96"/>
<polygon points="65.10,370.56 67.45,374.79 62.75,374.79" fill="#3c0f96"/>
<polygon points="78.10,369.36 80.45,373.59 75.75,373.59" fill="#3c0f96"/>
<polygon points="84.50,368.16 86.85,372.39 82.15,372.39" fill="#3c0f96"/>
<polygon points="52.20,374.36 54.55,378.59 49.85,378.59" fill="#3c0f96"/>
<polygon points="58.70,375.66 61.05,379.89 56.35,379.89" fill="#3c0f96"/>
<polygon points="65.10,377.26 67.45,381.49 62.75,381.49" fill="#3c0f96"/>
<polygon points="71.40,373.06 73.75,377.29 69.05,377.29" fill="#3c0f96"/>
<polygon points="75.00,373.46 77.35,377.69 72.65,377.69" fill="#3c0f96"/>
<polygon points="78.10,377.86 80.45,382.09 75.75,382.09" fill="#3c0f96"/>
<polygon points="84.50,376.06 86.85,380.29 82.15,380.29" fill="#3c0f96"/>
<polygon points="90.80,375.86 93.15,380.09 88.45,380.09" fill="#3c0f96"/>
<polygon points="58.70,380.96 61.05,385.19 56.35,385.19" fill="#3c0f96"/>
<polygon points="71.40,379.76 73.75,383.99 69.05,383.99" fill="#3c0f96"/>
<polygon points="78.10,381.46 80.45,385.69 75.75,385.69" fill="#3c0f96"/>
<polygon points="65.10,385.46 67.45,389.69 62.75,389.69" fill="#3c0f96"/>
<polygon points="71.40,386.26 73.75,390.49 69.05,390.49" fill="#3c0f96"/>
<polygon points="58.70,388.06 61.05,392.29 56.35,392.29" fill="#3c0f96"/>
<polygon points="65.10,390.46 67.45,394.69 62.75,394.69" fill="#3c0f96"/>
<polygon points="84.50,389.36 86.85,393.59 82.15,393.59" fill="#3c0f96"/>
<polygon points="78.10,392.86 80.45,397.09 75.75,397.09" fill="#3c0f96"/>
<polygon points="71.40,394.66 73.75,398.89 69.05,398.89" fill="#3c0f96"/>
<polygon points="58.70,402.36 61.05,406.59 56.35,406.59" fill="#3c0f96"/>
<polygon points="65.10,406.56 67.45,410.79 62.75,410.79" fill="#3c0f96"/>
<polygon points="71.40,407.46 73.75,411.69 69.05,411.69" fill="#3c0f96"/>
<polygon points="78.10,405.26 80.45,409.49 75.75,409.49" fill="#3c0f96"/>
<polygon points="71.40,414.26 73.75,418.49 69.05,418.49" fill="#3c0f96"/>
<line x1="128.10" y1="343.90" x2="128.10" y2="385.80" stroke="#222" stroke-width="1.0" />
<line x1="115.10" y1="343.90" x2="141.10" y2="343.90" stroke="#888" stroke-width="1.6" />
<line x1="115.10" y1="385.80" x2="141.10" y2="385.80" stroke="#888" stroke-width="1.6" />
<line x1="102.00" y1="364.80" x2="154.50" y2="364.80" stroke="#777" stroke-width="1.5" />
<polygon points="121.50,332.40 124.10,335.00 121.50,337.60 118.90,335.00" fill="#cc0000"/>
<polygon points="128.10,335.30 130.70,337.90 128.10,340.50 125.50,337.90" fill="#cc0000"/>
<polygon points="128.10,343.80 130.70,346.40 128.10,349.00 125.50,346.40" fill="#cc0000"/>
<polygon points="128.10,353.00 130.70,355.60 128.10,358.20 125.50,355.60" fill="#cc0000"/>
<polygon points="134.50,362.00 137.10,364.60 134.50,367.20 131.90,364.60" fill="#cc0000"/>
<polygon points="128.10,368.40 130.70,371.00 128.10,373.60 125.50,371.00" fill="#cc0000"/>
<polygon points="121.50,370.90 124.10,373.50 121.50,376.10 118.90,373.50" fill="#cc0000"/>
<polygon points="128.10,375.00 130.70,377.60 128.10,380.20 125.50,377.60" fill="#cc0000"/>
<polygon points="134.50,389.30 137.10,391.90 134.50,394.50 131.90,391.90" fill="#cc0000"/>
<polygon points="128.10,392.90 130.70,395.50 128.10,398.10 125.50,395.50" fill="#cc0000"/>
<line x1="184.80" y1="326.50" x2="184.80" y2="384.10" stroke="#222" stroke-width="1.0" />
<line x1="171.90" y1="326.50" x2="198.00" y2="326.50" stroke="#333" stroke-width="1.2" />
<line x1="171.90" y1="384.10" x2="198.00" y2="384.10" stroke="#888" stroke-width="1.6" />
<line x1="159.00" y1="355.50" x2="210.50" y2="355.50" stroke="#333" stroke-width="1.2" />
<circle cx="184.80" cy="312.70" r="2.3" fill="#0a4763"/>
<circle cx="184.80" cy="333.40" r="2.3" fill="#0a4763"/>
<circle cx="184.80" cy="353.70" r="2.3" fill="#0a4763"/>
<circle cx="184.80" cy="363.70" r="2.3" fill="#0a4763"/>
<circle cx="184.80" cy="378.60" r="2.3" fill="#0a4763"/>
<circle cx="184.80" cy="389.60" r="2.3" fill="#0a4763"/>
<line x1="42.70" y1="423.60" x2="213.90" y2="423.60" stroke="#000" stroke-width="2.2" />
<line x1="71.80" y1="423.60" x2="71.80" y2="427.90" stroke="#000" stroke-width="2.2" />
<text x="71.80" y="437.20" text-anchor="middle" font-size="10.5" font-weight="bold" font-style="normal" >CMR</text>
<line x1="128.20" y1="423.60" x2="128.20" y2="427.90" stroke="#000" stroke-width="2.2" />
<text x="128.20" y="437.20" text-anchor="middle" font-size="10.5" font-weight="bold" font-style="normal" >PMR</text>
<line x1="184.70" y1="423.60" x2="184.70" y2="427.90" stroke="#000" stroke-width="2.2" />
<text x="184.70" y="437.20" text-anchor="middle" font-size="10.5" font-weight="bold" font-style="normal" >PMD</text>
<text text-anchor="middle" font-size="10.35" font-weight="bold" transform="translate(13.9,338.6) rotate(-90)">The decline of DLBCLRP</text>
<text text-anchor="middle" font-size="10.5" font-weight="bold" transform="translate(26.3,338.6) rotate(-90)">expression (Z score)</text>
<text x="235.10" y="247.60" text-anchor="start" font-size="19.8" font-weight="bold" font-style="normal" >E</text>
<line x1="272.90" y1="254.50" x2="277.10" y2="254.50" stroke="#000" stroke-width="2.2" />
<text x="272.90" y="258.30" text-anchor="end" font-size="10.5" font-weight="bold" font-style="normal" >3</text>
<line x1="272.90" y1="296.70" x2="277.10" y2="296.70" stroke="#000" stroke-width="2.2" />
<text x="272.90" y="300.50" text-anchor="end" font-size="10.5" font-weight="bold" font-style="normal" >2</text>
<line x1="272.90" y1="338.90" x2="277.10" y2="338.90" stroke="#000" stroke-width="2.2" />
<text x="272.90" y="342.70" text-anchor="end" font-size="10.5" font-weight="bold" font-style="normal" >1</text>
<line x1="272.90" y1="381.10" x2="277.10" y2="381.10" stroke="#000" stroke-width="2.2" />
<text x="272.90" y="384.90" text-anchor="end" font-size="10.5" font-weight="bold" font-style="normal" >0</text>
<line x1="272.90" y1="423.30" x2="277.10" y2="423.30" stroke="#000" stroke-width="2.2" />
<text x="272.90" y="427.10" text-anchor="end" font-size="10.5" font-weight="bold" font-style="normal" >-1</text>
<line x1="277.10" y1="253.40" x2="277.10" y2="423.70" stroke="#000" stroke-width="2.2" />
<line x1="278.10" y1="381.10" x2="446.00" y2="381.10" stroke="#707070" stroke-width="1.0" stroke-dasharray="1.2 0.9"/>
<line x1="301.10" y1="380.80" x2="447.10" y2="354.60" stroke="#000" stroke-width="1.3" />
<polygon points="301.50,368.10 303.80,370.40 301.50,372.70 299.20,370.40" fill="#000"/>
<polygon points="301.50,392.90 303.80,395.20 301.50,397.50 299.20,395.20" fill="#000"/>
<polygon points="350.00,293.30 352.30,295.60 350.00,297.90 347.70,295.60" fill="#000"/>
<polygon points="350.00,317.90 352.30,320.20 350.00,322.50 347.70,320.20" fill="#000"/>
<polygon points="350.00,351.70 352.30,354.00 350.00,356.30 347.70,354.00" fill="#000"/>
<polygon points="350.00,354.60 352.30,356.90 350.00,359.20 347.70,356.90" fill="#000"/>
<polygon points="350.00,360.00 352.30,362.30 350.00,364.60 347.70,362.30" fill="#000"/>
<polygon points="350.00,362.70 352.30,365.00 350.00,367.30 347.70,365.00" fill="#000"/>
<polygon points="350.00,370.60 352.30,372.90 350.00,375.20 347.70,372.90" fill="#000"/>
<polygon points="350.00,373.30 352.30,375.60 350.00,377.90 347.70,375.60" fill="#000"/>
<polygon points="350.00,375.90 352.30,378.20 350.00,380.50 347.70,378.20" fill="#000"/>
<polygon points="350.00,378.50 352.30,380.80 350.00,383.10 347.70,380.80" fill="#000"/>
<polygon points="350.00,381.00 352.30,383.30 350.00,385.60 347.70,383.30" fill="#000"/>
<polygon points="350.00,387.40 352.30,389.70 350.00,392.00 347.70,389.70" fill="#000"/>
<polygon points="350.00,389.00 352.30,391.30 350.00,393.60 347.70,391.30" fill="#000"/>
<polygon points="350.00,394.00 352.30,396.30 350.00,398.60 347.70,396.30" fill="#000"/>
<polygon points="350.00,402.20 352.30,404.50 350.00,406.80 347.70,404.50" fill="#000"/>
<polygon points="350.00,407.20 352.30,409.50 350.00,411.80 347.70,409.50" fill="#000"/>
<polygon points="398.40,274.90 400.70,277.20 398.40,279.50 396.10,277.20" fill="#000"/>
<polygon points="398.40,310.10 400.70,312.40 398.40,314.70 396.10,312.40" fill="#000"/>
<polygon points="398.40,313.40 400.70,315.70 398.40,318.00 396.10,315.70" fill="#000"/>
<polygon points="398.40,319.30 400.70,321.60 398.40,323.90 396.10,321.60" fill="#000"/>
<polygon points="398.40,331.00 400.70,333.30 398.40,335.60 396.10,333.30" fill="#000"/>
<polygon points="398.40,335.80 400.70,338.10 398.40,340.40 396.10,338.10" fill="#000"/>
<polygon points="398.40,342.00 400.70,344.30 398.40,346.60 396.10,344.30" fill="#000"/>
<polygon points="398.40,361.40 400.70,363.70 398.40,366.00 396.10,363.70" fill="#000"/>
<polygon points="398.40,366.00 400.70,368.30 398.40,370.60 396.10,368.30" fill="#000"/>
<polygon points="398.40,369.00 400.70,371.30 398.40,373.60 396.10,371.30" fill="#000"/>
<polygon points="398.40,371.10 400.70,373.40 398.40,375.70 396.10,373.40" fill="#000"/>
<polygon points="398.40,375.90 400.70,378.20 398.40,380.50 396.10,378.20" fill="#000"/>
<polygon points="398.40,386.70 400.70,389.00 398.40,391.30 396.10,389.00" fill="#000"/>
<polygon points="398.40,389.70 400.70,392.00 398.40,394.30 396.10,392.00" fill="#000"/>
<polygon points="398.40,405.50 400.70,407.80 398.40,410.10 396.10,407.80" fill="#000"/>
<polygon points="447.00,312.00 449.30,314.30 447.00,316.60 444.70,314.30" fill="#000"/>
<polygon points="447.00,315.90 449.30,318.20 447.00,320.50 444.70,318.20" fill="#000"/>
<polygon points="447.00,322.80 449.30,325.10 447.00,327.40 444.70,325.10" fill="#000"/>
<polygon points="447.00,332.50 449.30,334.80 447.00,337.10 444.70,334.80" fill="#000"/>
<polygon points="447.00,336.50 449.30,338.80 447.00,341.10 444.70,338.80" fill="#000"/>
<polygon points="447.00,344.20 449.30,346.50 447.00,348.80 444.70,346.50" fill="#000"/>
<polygon points="447.00,353.40 449.30,355.70 447.00,358.00 444.70,355.70" fill="#000"/>
<polygon points="447.00,358.40 449.30,360.70 447.00,363.00 444.70,360.70" fill="#000"/>
<polygon points="447.00,361.80 449.30,364.10 447.00,366.40 444.70,364.10" fill="#000"/>
<polygon points="447.00,368.60 449.30,370.90 447.00,373.20 444.70,370.90" fill="#000"/>
<polygon points="447.00,372.90 449.30,375.20 447.00,377.50 444.70,375.20" fill="#000"/>
<polygon points="447.00,376.50 449.30,378.80 447.00,381.10 444.70,378.80" fill="#000"/>
<polygon points="447.00,378.30 449.30,380.60 447.00,382.90 444.70,380.60" fill="#000"/>
<polygon points="447.00,386.00 449.30,388.30 447.00,390.60 444.70,388.30" fill="#000"/>
<polygon points="447.00,414.60 449.30,416.90 447.00,419.20 444.70,416.90" fill="#000"/>
<line x1="276.00" y1="423.70" x2="448.20" y2="423.70" stroke="#000" stroke-width="2.2" />
<line x1="301.70" y1="423.70" x2="301.70" y2="428.00" stroke="#000" stroke-width="2.2" />
<text x="301.70" y="437.90" text-anchor="middle" font-size="10.5" font-weight="bold" font-style="normal" >1</text>
<line x1="349.90" y1="423.70" x2="349.90" y2="428.00" stroke="#000" stroke-width="2.2" />
<text x="349.90" y="437.90" text-anchor="middle" font-size="10.5" font-weight="bold" font-style="normal" >2</text>
<line x1="398.10" y1="423.70" x2="398.10" y2="428.00" stroke="#000" stroke-width="2.2" />
<text x="398.10" y="437.90" text-anchor="middle" font-size="10.5" font-weight="bold" font-style="normal" >3</text>
<line x1="446.50" y1="423.70" x2="446.50" y2="428.00" stroke="#000" stroke-width="2.2" />
<text x="446.50" y="437.90" text-anchor="middle" font-size="10.5" font-weight="bold" font-style="normal" >4</text>
<text x="362.30" y="451.60" text-anchor="middle" font-size="10.25" font-weight="bold" font-style="normal" >Ann Arbor staging</text>
<text text-anchor="middle" font-size="10.35" font-weight="bold" transform="translate(247.8,338.2) rotate(-90)">The decline of DLBCLRP</text>
<text text-anchor="middle" font-size="10.5" font-weight="bold" transform="translate(260.2,338.2) rotate(-90)">expression (Z score)</text>
<text x="302.10" y="260.20" text-anchor="start" font-size="11.0" font-weight="bold" font-style="normal" ><tspan font-style="italic">P</tspan> = 0.023</text>
<text x="300.30" y="279.00" text-anchor="start" font-size="11.0" font-weight="bold" font-style="normal" >r<tspan font-size="8" dy="3.3">s</tspan><tspan dy="-3.3"> = 0.284</tspan></text>
<text x="471.30" y="247.90" text-anchor="start" font-size="19.8" font-weight="bold" font-style="normal" >F</text>
<line x1="508.10" y1="254.50" x2="512.30" y2="254.50" stroke="#000" stroke-width="2.2" />
<text x="508.10" y="258.30" text-anchor="end" font-size="10.5" font-weight="bold" font-style="normal" >3</text>
<line x1="508.10" y1="296.70" x2="512.30" y2="296.70" stroke="#000" stroke-width="2.2" />
<text x="508.10" y="300.50" text-anchor="end" font-size="10.5" font-weight="bold" font-style="normal" >2</text>
<line x1="508.10" y1="338.90" x2="512.30" y2="338.90" stroke="#000" stroke-width="2.2" />
<text x="508.10" y="342.70" text-anchor="end" font-size="10.5" font-weight="bold" font-style="normal" >1</text>
<line x1="508.10" y1="381.10" x2="512.30" y2="381.10" stroke="#000" stroke-width="2.2" />
<text x="508.10" y="384.90" text-anchor="end" font-size="10.5" font-weight="bold" font-style="normal" >0</text>
<line x1="508.10" y1="423.30" x2="512.30" y2="423.30" stroke="#000" stroke-width="2.2" />
<text x="508.10" y="427.10" text-anchor="end" font-size="10.5" font-weight="bold" font-style="normal" >-1</text>
<line x1="512.30" y1="253.40" x2="512.30" y2="423.50" stroke="#000" stroke-width="2.2" />
<line x1="513.30" y1="381.30" x2="681.50" y2="381.30" stroke="#707070" stroke-width="1.0" stroke-dasharray="1.2 0.9"/>
<line x1="528.70" y1="375.70" x2="681.10" y2="347.30" stroke="#000" stroke-width="1.3" />
<polygon points="527.80,360.20 530.10,362.50 527.80,364.80 525.50,362.50" fill="#000"/>
<polygon points="527.80,362.40 530.10,364.70 527.80,367.00 525.50,364.70" fill="#000"/>
<polygon points="527.80,371.20 530.10,373.50 527.80,375.80 525.50,373.50" fill="#000"/>
<polygon points="527.80,372.80 530.10,375.10 527.80,377.40 525.50,375.10" fill="#000"/>
<polygon points="527.80,376.90 530.10,379.20 527.80,381.50 525.50,379.20" fill="#000"/>
<polygon points="527.80,379.90 530.10,382.20 527.80,384.50 525.50,382.20" fill="#000"/>
<polygon points="527.80,386.50 530.10,388.80 527.80,391.10 525.50,388.80" fill="#000"/>
<polygon points="527.80,392.70 530.10,395.00 527.80,397.30 525.50,395.00" fill="#000"/>
<polygon points="527.80,394.90 530.10,397.20 527.80,399.50 525.50,397.20" fill="#000"/>
<polygon points="558.50,293.40 560.80,295.70 558.50,298.00 556.20,295.70" fill="#000"/>
<polygon points="558.50,318.10 560.80,320.40 558.50,322.70 556.20,320.40" fill="#000"/>
<polygon points="558.50,352.00 560.80,354.30 558.50,356.60 556.20,354.30" fill="#000"/>
<polygon points="558.50,354.00 560.80,356.30 558.50,358.60 556.20,356.30" fill="#000"/>
<polygon points="558.50,366.00 560.80,368.30 558.50,370.60 556.20,368.30" fill="#000"/>
<polygon points="558.50,368.70 560.80,371.00 558.50,373.30 556.20,371.00" fill="#000"/>
<polygon points="558.50,374.90 560.80,377.20 558.50,379.50 556.20,377.20" fill="#000"/>
<polygon points="558.50,376.60 560.80,378.90 558.50,381.20 556.20,378.90" fill="#000"/>
<polygon points="558.50,381.70 560.80,384.00 558.50,386.30 556.20,384.00" fill="#000"/>
<polygon points="558.50,388.70 560.80,391.00 558.50,393.30 556.20,391.00" fill="#000"/>
<polygon points="558.50,393.30 560.80,395.60 558.50,397.90 556.20,395.60" fill="#000"/>
<polygon points="558.50,402.10 560.80,404.40 558.50,406.70 556.20,404.40" fill="#000"/>
<polygon points="558.50,406.20 560.80,408.50 558.50,410.80 556.20,408.50" fill="#000"/>
<polygon points="558.50,408.20 560.80,410.50 558.50,412.80 556.20,410.50" fill="#000"/>
<polygon points="589.40,274.90 591.70,277.20 589.40,279.50 587.10,277.20" fill="#000"/>
<polygon points="589.40,313.40 591.70,315.70 589.40,318.00 587.10,315.70" fill="#000"/>
<polygon points="589.40,322.80 591.70,325.10 589.40,327.40 587.10,325.10" fill="#000"/>
<polygon points="589.40,333.10 591.70,335.40 589.40,337.70 587.10,335.40" fill="#000"/>
<polygon points="589.40,354.60 591.70,356.90 589.40,359.20 587.10,356.90" fill="#000"/>
<polygon points="589.40,358.20 591.70,360.50 589.40,362.80 587.10,360.50" fill="#000"/>
<polygon points="589.40,362.10 591.70,364.40 589.40,366.70 587.10,364.40" fill="#000"/>
<polygon points="589.40,369.40 591.70,371.70 589.40,374.00 587.10,371.70" fill="#000"/>
<polygon points="589.40,381.30 591.70,383.60 589.40,385.90 587.10,383.60" fill="#000"/>
<polygon points="589.40,387.20 591.70,389.50 589.40,391.80 587.10,389.50" fill="#000"/>
<polygon points="589.40,390.30 591.70,392.60 589.40,394.90 587.10,392.60" fill="#000"/>
<polygon points="589.40,405.50 591.70,407.80 589.40,410.10 587.10,407.80" fill="#000"/>
<polygon points="620.40,310.50 622.70,312.80 620.40,315.10 618.10,312.80" fill="#000"/>
<polygon points="620.40,315.80 622.70,318.10 620.40,320.40 618.10,318.10" fill="#000"/>
<polygon points="620.40,319.30 622.70,321.60 620.40,323.90 618.10,321.60" fill="#000"/>
<polygon points="620.40,331.00 622.70,333.30 620.40,335.60 618.10,333.30" fill="#000"/>
<polygon points="620.40,335.90 622.70,338.20 620.40,340.50 618.10,338.20" fill="#000"/>
<polygon points="620.40,342.00 622.70,344.30 620.40,346.60 618.10,344.30" fill="#000"/>
<polygon points="620.40,361.60 622.70,363.90 620.40,366.20 618.10,363.90" fill="#000"/>
<polygon points="620.40,373.40 622.70,375.70 620.40,378.00 618.10,375.70" fill="#000"/>
<polygon points="620.40,375.60 622.70,377.90 620.40,380.20 618.10,377.90" fill="#000"/>
<polygon points="620.40,378.10 622.70,380.40 620.40,382.70 618.10,380.40" fill="#000"/>
<polygon points="620.40,386.00 622.70,388.30 620.40,390.60 618.10,388.30" fill="#000"/>
<polygon points="651.30,312.20 653.60,314.50 651.30,316.80 649.00,314.50" fill="#000"/>
<polygon points="651.30,368.70 653.60,371.00 651.30,373.30 649.00,371.00" fill="#000"/>
<polygon points="651.30,370.90 653.60,373.20 651.30,375.50 649.00,373.20" fill="#000"/>
<polygon points="651.30,414.60 653.60,416.90 651.30,419.20 649.00,416.90" fill="#000"/>
<polygon points="682.00,344.00 684.30,346.30 682.00,348.60 679.70,346.30" fill="#000"/>
<polygon points="682.00,353.40 684.30,355.70 682.00,358.00 679.70,355.70" fill="#000"/>
<line x1="511.20" y1="423.50" x2="683.50" y2="423.50" stroke="#000" stroke-width="2.2" />
<line x1="527.90" y1="423.50" x2="527.90" y2="427.80" stroke="#000" stroke-width="2.2" />
<text x="527.90" y="437.90" text-anchor="middle" font-size="10.5" font-weight="bold" font-style="normal" >0</text>
<line x1="558.62" y1="423.50" x2="558.62" y2="427.80" stroke="#000" stroke-width="2.2" />
<text x="558.62" y="437.90" text-anchor="middle" font-size="10.5" font-weight="bold" font-style="normal" >1</text>
<line x1="589.34" y1="423.50" x2="589.34" y2="427.80" stroke="#000" stroke-width="2.2" />
<text x="589.34" y="437.90" text-anchor="middle" font-size="10.5" font-weight="bold" font-style="normal" >2</text>
<line x1="620.06" y1="423.50" x2="620.06" y2="427.80" stroke="#000" stroke-width="2.2" />
<text x="620.06" y="437.90" text-anchor="middle" font-size="10.5" font-weight="bold" font-style="normal" >3</text>
<line x1="650.78" y1="423.50" x2="650.78" y2="427.80" stroke="#000" stroke-width="2.2" />
<text x="650.78" y="437.90" text-anchor="middle" font-size="10.5" font-weight="bold" font-style="normal" >4</text>
<line x1="681.50" y1="423.50" x2="681.50" y2="427.80" stroke="#000" stroke-width="2.2" />
<text x="681.50" y="437.90" text-anchor="middle" font-size="10.5" font-weight="bold" font-style="normal" >5</text>
<text x="597.30" y="451.10" text-anchor="middle" font-size="10.4" font-weight="bold" font-style="normal" >International prognostic index (IPI)</text>
<text text-anchor="middle" font-size="10.35" font-weight="bold" transform="translate(483.0,338.2) rotate(-90)">The decline of DLBCLRP</text>
<text text-anchor="middle" font-size="10.5" font-weight="bold" transform="translate(495.4,338.2) rotate(-90)">expression (Z score)</text>
<text x="676.00" y="260.20" text-anchor="end" font-size="11.0" font-weight="bold" font-style="normal" ><tspan font-style="italic">P</tspan> = 0.017</text>
<text x="676.00" y="279.00" text-anchor="end" font-size="11.0" font-weight="bold" font-style="normal" >r<tspan font-size="8" dy="3.3">s</tspan><tspan dy="-3.3"> = 0.297</tspan></text>
</svg></body></html>
